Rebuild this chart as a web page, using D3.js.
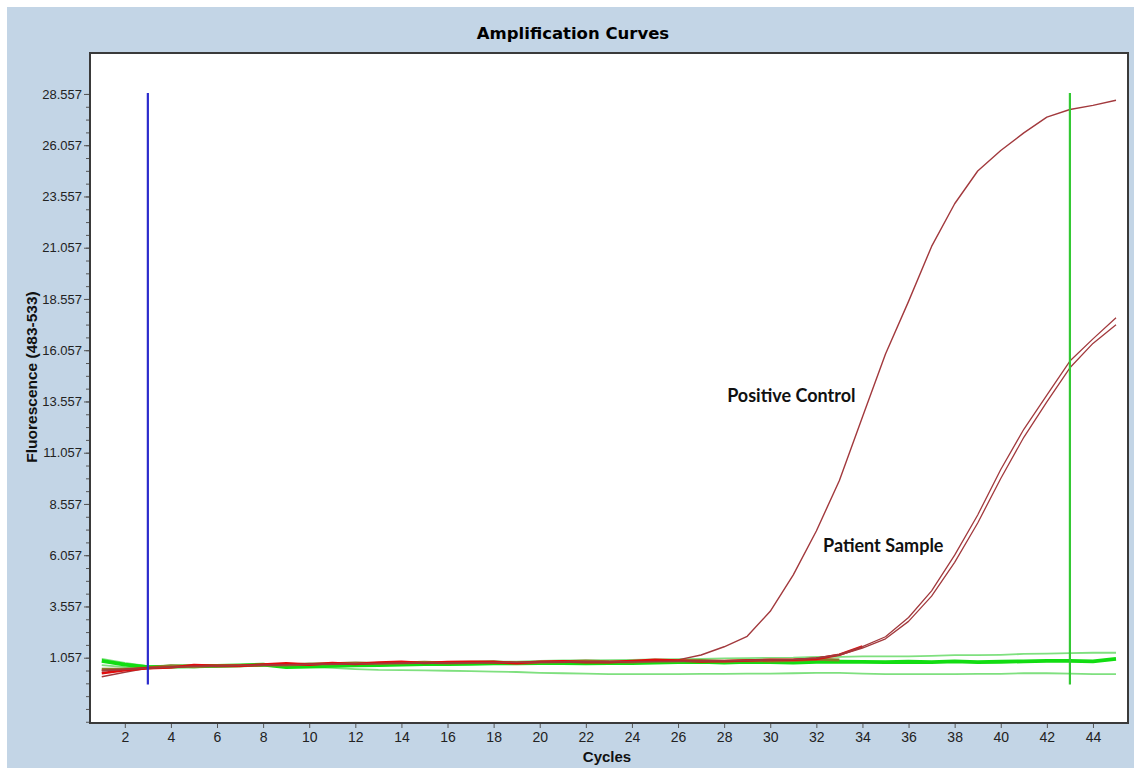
<!DOCTYPE html>
<html><head><meta charset="utf-8">
<script src="https://cdn.jsdelivr.net/npm/d3@7"></script>
<style>
body{margin:0;background:#fff;}
svg{display:block;}
text{font-family:"Liberation Sans",Arial,sans-serif;}
</style></head>
<body>
<svg id="chart" width="1134" height="768"></svg>
<script>
const cycles = d3.range(1, 46);
const positiveControl = [0.13,0.35,0.55,0.62,0.66,0.66,0.68,0.7,0.72,0.72,0.75,0.76,0.78,0.8,0.8,0.81,0.82,0.82,0.83,0.83,0.85,0.85,0.86,0.88,0.9,0.95,1.19,1.59,2.1,3.32,5.1,7.24,9.7,12.8,15.87,18.44,21.12,23.2,24.8,25.8,26.66,27.43,27.8,28.0,28.25];
const patientSampleA = [0.45,0.5,0.55,0.6,0.64,0.66,0.68,0.7,0.72,0.74,0.75,0.77,0.78,0.8,0.8,0.81,0.82,0.83,0.83,0.84,0.85,0.86,0.86,0.87,0.88,0.89,0.9,0.91,0.93,0.95,0.98,1.05,1.22,1.6,2.08,3.02,4.32,6.06,8.02,10.24,12.2,13.87,15.53,16.61,17.64];
const patientSampleB = [0.4,0.48,0.55,0.6,0.63,0.65,0.67,0.69,0.71,0.73,0.74,0.76,0.77,0.79,0.8,0.8,0.81,0.82,0.83,0.84,0.84,0.85,0.86,0.86,0.87,0.88,0.89,0.9,0.92,0.94,0.96,1.03,1.18,1.52,1.98,2.83,4.06,5.71,7.63,9.8,11.81,13.54,15.2,16.39,17.3];
const redTrace = [0.3,0.45,0.55,0.58,0.7,0.66,0.66,0.72,0.78,0.72,0.8,0.75,0.82,0.86,0.8,0.84,0.86,0.84,0.8,0.86,0.88,0.84,0.84,0.9,0.95,0.92,0.88,0.9,0.92,0.95,0.96,1.0,1.2,1.6];
const oliveTrace = [0.5,0.5,0.55,0.66,0.62,0.66,0.68,0.7,0.7,0.75,0.76,0.8,0.78,0.8,0.84,0.8,0.82,0.86,0.78,0.84,0.86,0.9,0.86,0.85,0.9,0.9,0.92,0.87,0.92,0.9,0.92,0.98,0.95];
const greenUpper = [1.0,0.8,0.64,0.66,0.68,0.7,0.71,0.74,0.75,0.76,0.78,0.8,0.8,0.82,0.84,0.85,0.86,0.86,0.87,0.9,0.92,0.93,0.94,0.95,0.97,0.99,1.0,1.02,1.04,1.05,1.06,1.1,1.1,1.12,1.12,1.12,1.15,1.18,1.18,1.2,1.24,1.26,1.28,1.3,1.3];
const greenThick = [0.9,0.72,0.6,0.62,0.64,0.66,0.68,0.72,0.6,0.62,0.66,0.68,0.7,0.72,0.75,0.74,0.76,0.78,0.78,0.8,0.8,0.78,0.8,0.8,0.82,0.84,0.85,0.82,0.86,0.84,0.82,0.86,0.86,0.85,0.84,0.86,0.84,0.88,0.84,0.86,0.88,0.9,0.9,0.88,1.0];
const greenLower = [0.7,0.6,0.56,0.6,0.62,0.64,0.65,0.66,0.62,0.6,0.56,0.5,0.46,0.45,0.44,0.42,0.4,0.38,0.36,0.32,0.3,0.28,0.26,0.26,0.26,0.26,0.27,0.27,0.28,0.28,0.3,0.32,0.32,0.28,0.26,0.26,0.26,0.26,0.27,0.27,0.3,0.3,0.28,0.26,0.26];
const yTickLabels = [1.057,3.557,6.057,8.557,11.057,13.557,16.057,18.557,21.057,23.557,26.057,28.557];
const xTickLabels = [2,4,6,8,10,12,14,16,18,20,22,24,26,28,30,32,34,36,38,40,42,44];
const markerCycles = [3, 43];
const markerColors = ["#2b2bcc", "#33c833"];
const annotations = [
  {text:"Positive Control", cycle:28.13, value:13.53},
  {text:"Patient Sample", cycle:32.29, value:6.21}
];

const svg = d3.select("#chart");
svg.append("rect").attr("x",7).attr("y",7).attr("width",1127).attr("height",761).attr("fill","#c3d5e6");

const L=90, T=53, R=1128, B=723;
const x = d3.scaleLinear().domain([0.49, 45.52]).range([L, R]);
const y = d3.scaleLinear().domain([-2.128, 30.555]).range([B, T]);

svg.append("rect").attr("x",L).attr("y",T).attr("width",R-L).attr("height",B-T).attr("fill","#fff");

// title
svg.append("text").attr("x",573).attr("y",39).attr("text-anchor","middle")
  .style("font-family","'DejaVu Sans', sans-serif")
  .style("font-weight","bold").style("font-size","16.5px").attr("fill","#000").text("Amplification Curves");

// y axis minor ticks
const minor = d3.range(0, 60).map(k => 1.057 + (k-5)*0.625).filter(v => v > -2.1 && v <= 28.56);
svg.append("g").attr("transform",`translate(${L},0)`)
  .call(d3.axisLeft(y).tickValues(minor).tickSize(4).tickFormat(""))
  .call(g=>g.select(".domain").remove())
  .call(g=>g.selectAll("line").attr("stroke","#555"));
const yAxis = svg.append("g").attr("transform",`translate(${L},0)`)
  .call(d3.axisLeft(y).tickValues(yTickLabels).tickSize(6).tickPadding(2).tickFormat(d3.format(".3f")));
yAxis.select(".domain").remove();
yAxis.selectAll("line").attr("stroke","#555");
yAxis.selectAll("text").style("font-size","13px").attr("fill","#222");

const xAxis = svg.append("g").attr("transform",`translate(0,${B})`)
  .call(d3.axisBottom(x).tickValues(xTickLabels).tickSize(5).tickPadding(4));
xAxis.select(".domain").remove();
xAxis.selectAll("line").attr("stroke","#555");
xAxis.selectAll("text").style("font-size","14px").attr("fill","#222");

svg.append("text").attr("transform","translate(37,377) rotate(-90)").attr("text-anchor","middle")
  .style("font-weight","bold").style("font-size","15.5px").attr("fill","#111").text("Fluorescence (483-533)");
svg.append("text").attr("x",607).attr("y",762).attr("text-anchor","middle")
  .style("font-weight","bold").style("font-size","15px").attr("fill","#111").text("Cycles");

const plot = svg.append("g");
const line = d3.line().x((d,i)=>x(cycles[i])).y(d=>y(d));

function draw(data, color, w){
  plot.append("path").datum(data).attr("d", line).attr("fill","none")
    .attr("stroke", color).attr("stroke-width", w).attr("stroke-linejoin","round");
}
draw(greenLower, "#7fe07f", 1.8);
draw(greenUpper, "#7fe07f", 1.8);
draw(greenThick, "#12dd12", 3.8);
draw(positiveControl, "#a2393d", 1.4);
draw(oliveTrace, "#8a7c2a", 3);
draw(redTrace, "#e20c0c", 2.6);
draw(patientSampleA, "#a2393d", 1.3);
draw(patientSampleB, "#a2393d", 1.3);

// marker lines
markerCycles.forEach((c,i)=>{
  plot.append("line").attr("x1",x(c)).attr("x2",x(c)).attr("y1",y(28.6)).attr("y2",y(-0.25))
    .attr("stroke",markerColors[i]).attr("stroke-width",2.2);
});

annotations.forEach(a=>{
  plot.append("text").attr("x",x(a.cycle)).attr("y",y(a.value))
    .style("font-family","Lato, 'Open Sans', sans-serif").style("font-weight","bold").style("font-size","18px")
    .attr("fill","#111").text(a.text);
});

// frame
svg.append("rect").attr("x",L).attr("y",T).attr("width",R-L).attr("height",B-T)
  .attr("fill","none").attr("stroke","#3a3a3a").attr("stroke-width",2);
</script>
</body></html>
